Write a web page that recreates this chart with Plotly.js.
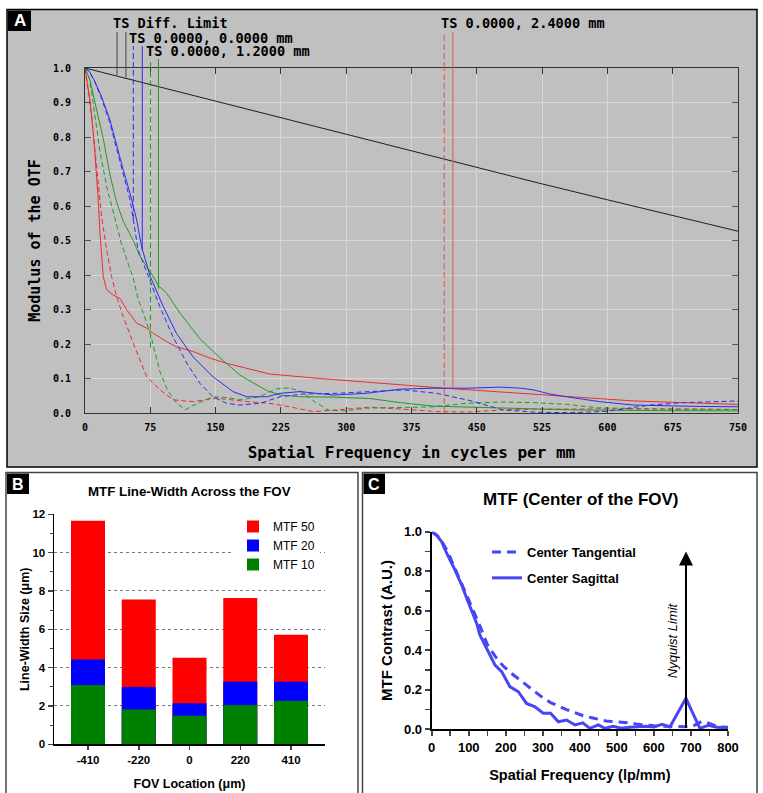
<!DOCTYPE html>
<html><head><meta charset="utf-8">
<script src="https://cdn.plot.ly/plotly-3.0.1.min.js"></script>
<style>html,body{margin:0;padding:0;background:#fff}</style>
</head><body><div id="chart" style="width:763px;height:793px"></div>
<script>
// ---------- Panel A data (Spatial frequency in cycles per mm vs modulus of the OTF) ----------
const diffFreq = [0, 75, 150, 225, 300, 375, 450, 525, 600, 675, 750];
const diffVal  = [1.0, 0.952, 0.903, 0.855, 0.807, 0.759, 0.712, 0.664, 0.618, 0.572, 0.527];

const blueSFreq = [0, 5, 11.5, 19, 28.7, 36.4, 44, 51.7, 59.4, 65, 75, 90, 105, 124, 147, 170, 186, 209, 224, 247, 285, 323, 362, 400, 442, 477, 500, 515, 534, 553, 591, 630, 668, 706, 750];
const blueSVal  = [1, 0.99, 0.96, 0.917, 0.849, 0.772, 0.704, 0.637, 0.559, 0.482, 0.395, 0.308, 0.231, 0.163, 0.105, 0.062, 0.047, 0.047, 0.057, 0.062, 0.052, 0.057, 0.069, 0.072, 0.072, 0.075, 0.072, 0.067, 0.055, 0.047, 0.033, 0.023, 0.02, 0.019, 0.018];

const blueTFreq = [0, 5, 11.5, 19, 28.7, 36.4, 44, 52, 55.5, 61, 73, 86, 101, 117, 132, 147, 163, 178, 201, 224, 250, 289, 327, 366, 404, 442, 480, 520, 560, 600, 649, 687, 750];
const blueTVal  = [1, 0.99, 0.958, 0.912, 0.84, 0.765, 0.69, 0.615, 0.56, 0.472, 0.395, 0.308, 0.221, 0.144, 0.086, 0.047, 0.028, 0.023, 0.028, 0.047, 0.055, 0.057, 0.062, 0.067, 0.057, 0.036, 0.009, 0.002, 0.001, 0.005, 0.023, 0.030, 0.035];

const greenSFreq = [0, 5.7, 13.4, 21, 28.7, 36.4, 44, 55.5, 63, 71, 78.5, 84, 93.8, 109, 124, 132, 155, 178, 201, 209, 224, 247, 285, 327, 362, 400, 442, 500, 560, 650, 750];
const greenSVal  = [1, 0.965, 0.878, 0.795, 0.69, 0.61, 0.555, 0.5, 0.455, 0.425, 0.395, 0.37, 0.347, 0.29, 0.24, 0.215, 0.16, 0.11, 0.076, 0.065, 0.052, 0.047, 0.046, 0.042, 0.03, 0.02, 0.017, 0.012, 0.009, 0.007, 0.006];

const greenTFreq = [0, 5, 9.6, 17, 25, 32.5, 42, 50, 55.5, 61, 67, 75, 86, 95, 105, 115, 124, 147, 163, 178, 201, 220, 235, 250, 265, 280, 300, 323, 362, 400, 438, 477, 515, 553, 590, 650, 750];
const greenTVal  = [1, 0.97, 0.895, 0.76, 0.655, 0.585, 0.49, 0.43, 0.39, 0.33, 0.29, 0.23, 0.12, 0.065, 0.03, 0.009, 0.022, 0.047, 0.045, 0.038, 0.048, 0.07, 0.073, 0.06, 0.03, 0.008, 0.006, 0.014, 0.015, 0.018, 0.028, 0.032, 0.03, 0.025, 0.015, 0.012, 0.01];

const redSFreq = [0, 5.7, 9.6, 12.6, 15.3, 17.2, 19.1, 21, 24.9, 32.5, 40.2, 47.9, 59.4, 70.9, 78.5, 93.8, 105, 124.4, 143.6, 162.7, 201, 212, 270, 327, 385, 412, 442, 500, 553, 591, 630, 687, 750];
const redSVal  = [1, 0.907, 0.81, 0.714, 0.617, 0.521, 0.453, 0.395, 0.357, 0.342, 0.332, 0.299, 0.26, 0.246, 0.231, 0.207, 0.192, 0.178, 0.159, 0.144, 0.12, 0.113, 0.10, 0.088, 0.077, 0.072, 0.067, 0.057, 0.047, 0.040, 0.035, 0.030, 0.025];

const redTFreq = [0, 7.7, 11.5, 15.3, 19.1, 24.9, 30.6, 36.4, 44, 55.5, 63.2, 70.9, 86, 101.4, 124.4, 151, 185.7, 212, 235, 262, 289, 327, 366, 404, 442, 480, 515, 600, 706, 750];
const redTVal  = [1, 0.859, 0.762, 0.666, 0.569, 0.472, 0.395, 0.337, 0.279, 0.202, 0.154, 0.105, 0.067, 0.038, 0.033, 0.043, 0.033, 0.028, 0.018, 0.004, 0.009, 0.017, 0.011, 0.004, 0.003, 0.009, 0.011, 0.012, 0.011, 0.01];

// vertical marker lines (frequency where they are drawn, value where they stop)
const markerLabels = ['TS Diff. Limit', 'TS 0.0000, 0.0000 mm', 'TS 0.0000, 1.2000 mm', 'TS 0.0000, 2.4000 mm'];
const markerFreq = [36.8, 47, 55.5, 65.8, 75.2, 84.4, 412.6, 422.5];
const markerEnd  = [0.978, 0.972, 0.56, 0.47, 0.19, 0.36, 0.0, 0.072];

const xTicksA = [0, 75, 150, 225, 300, 375, 450, 525, 600, 675, 750];

// ---------- Panel B data ----------
const fovLocations = ['-410', '-220', '0', '220', '410'];
const mtf50 = [11.66, 7.56, 4.52, 7.63, 5.72];
const mtf20 = [4.43, 2.99, 2.14, 3.27, 3.27];
const mtf10 = [3.09, 1.81, 1.49, 2.05, 2.27];

// ---------- Panel C data ----------
const sagFreq = [0, 13.5, 27, 40.5, 63, 81, 94.5, 108, 121.5, 130, 144, 157, 171, 189, 211, 234, 256, 279, 301, 321, 342, 364, 387, 408, 427, 450, 468, 490, 512, 534, 556, 578, 600, 622, 643, 686.5, 724, 747, 770, 800];
const sagVal  = [1, 0.983, 0.949, 0.891, 0.806, 0.73, 0.663, 0.595, 0.536, 0.477, 0.427, 0.376, 0.325, 0.292, 0.216, 0.19, 0.131, 0.114, 0.081, 0.081, 0.038, 0.047, 0.022, 0.033, 0.005, 0.022, 0.005, 0.015, 0.005, 0.01, 0.012, 0.015, 0.012, 0.025, 0.012, 0.157, 0.005, 0.02, 0.01, 0.008];
const tanFreq = [0, 21.4, 42.9, 64.3, 85.7, 107, 128.6, 150, 171, 193, 214, 236, 257, 279, 300, 321, 343, 364, 386, 407, 429, 450, 471, 493, 514, 536, 557, 579, 600, 621, 643, 664, 686, 707, 729, 750, 771, 800];
const tanVal  = [1, 0.97, 0.9, 0.81, 0.72, 0.625, 0.53, 0.43, 0.37, 0.32, 0.285, 0.255, 0.222, 0.19, 0.16, 0.135, 0.115, 0.1, 0.085, 0.07, 0.06, 0.05, 0.042, 0.038, 0.035, 0.032, 0.025, 0.02, 0.018, 0.016, 0.014, 0.013, 0.013, 0.018, 0.04, 0.03, 0.013, 0.01];
const nyquistFreq = 686.6;
const nyquistArrowTop = 0.9;

// ---------- layout helpers ----------
const W = 763, H = 793;
const PX = v => v / W;
const PY = v => 1 - v / H;
const MONO = 'DejaVu Sans Mono, monospace';
const SANS = 'Arial, Liberation Sans, Helvetica, sans-serif';
const RED = 'rgb(238,45,45)', BLUE = 'rgb(45,45,240)', GREEN = 'rgb(35,155,35)';
const CBLUE = 'rgb(70,70,245)';

function lineA(x, y, color, dash) {
  return {x: x, y: y, xaxis: 'x', yaxis: 'y', type: 'scatter', mode: 'lines',
    line: {color: color, width: 1, dash: dash || 'solid'}, showlegend: false, hoverinfo: 'skip'};
}

const traces = [
  lineA(diffFreq, diffVal, 'rgb(30,30,30)'),
  lineA(redTFreq, redTVal, RED, '5px,3px'),
  lineA(redSFreq, redSVal, RED),
  lineA(greenTFreq, greenTVal, GREEN, '5px,3px'),
  lineA(greenSFreq, greenSVal, GREEN),
  lineA(blueTFreq, blueTVal, BLUE, '5px,3px'),
  lineA(blueSFreq, blueSVal, BLUE),
  // Panel B
  {type: 'bar', name: 'MTF 50', x: fovLocations, y: mtf50, xaxis: 'x2', yaxis: 'y2', width: 0.67,
   marker: {color: 'rgb(255,0,0)', line: {width: 0}}, legend: 'legend', legendgroup: 'g50', hoverinfo: 'skip'},
  {type: 'bar', name: 'MTF 20', x: fovLocations, y: mtf20, xaxis: 'x2', yaxis: 'y2', width: 0.67,
   marker: {color: 'rgb(0,0,255)', line: {width: 0}}, legend: 'legend', legendgroup: 'g20', hoverinfo: 'skip'},
  {type: 'bar', name: 'MTF 10', x: fovLocations, y: mtf10, xaxis: 'x2', yaxis: 'y2', width: 0.67,
   marker: {color: 'rgb(0,128,0)', line: {width: 0}}, legend: 'legend', legendgroup: 'g10', hoverinfo: 'skip'},
  // Panel C
  {type: 'scatter', mode: 'lines', name: 'Center Tangential', x: tanFreq, y: tanVal, xaxis: 'x3', yaxis: 'y3',
   line: {color: CBLUE, width: 3, dash: '9px,6px'}, legend: 'legend2', legendgroup: 'ct', hoverinfo: 'skip'},
  {type: 'scatter', mode: 'lines', name: 'Center Sagittal', x: sagFreq, y: sagVal, xaxis: 'x3', yaxis: 'y3',
   line: {color: CBLUE, width: 3}, legend: 'legend2', legendgroup: 'cs', hoverinfo: 'skip'}
];

// ---------- shapes ----------
const shapes = [
  {type: 'rect', xref: 'paper', yref: 'paper', x0: PX(7), x1: PX(757), y0: PY(9.5), y1: PY(467),
   fillcolor: 'rgb(192,192,192)', line: {color: 'black', width: 1.5}, layer: 'below'},
  {type: 'rect', xref: 'paper', yref: 'paper', x0: PX(6), x1: PX(358), y0: PY(472.5), y1: PY(800),
   fillcolor: 'white', line: {color: '#444', width: 1.5}, layer: 'below'},
  {type: 'rect', xref: 'paper', yref: 'paper', x0: PX(362.5), x1: PX(757), y0: PY(472.5), y1: PY(800),
   fillcolor: 'white', line: {color: '#444', width: 1.5}, layer: 'below'},
  // letter boxes
  {type: 'rect', xref: 'paper', yref: 'paper', x0: PX(8), x1: PX(31), y0: PY(10.5), y1: PY(31), fillcolor: 'black', line: {width: 0}},
  {type: 'rect', xref: 'paper', yref: 'paper', x0: PX(7), x1: PX(29), y0: PY(473.5), y1: PY(494), fillcolor: 'black', line: {width: 0}},
  {type: 'rect', xref: 'paper', yref: 'paper', x0: PX(363.5), x1: PX(385), y0: PY(473.5), y1: PY(494), fillcolor: 'black', line: {width: 0}}
];

// vertical marker lines for panel A
const markerColors = ['rgb(70,70,70)', 'rgb(70,70,70)', BLUE, BLUE, GREEN, GREEN, 'rgb(235,80,80)', 'rgb(235,80,80)'];
const markerDash = ['solid', 'solid', '6px,3px', 'solid', '6px,3px', 'solid', '6px,3px', 'solid'];
const markerTopPx = [32, 32, 46, 46, 59, 59, 32, 32];
const yDomA = [PY(413), PY(68)];
markerFreq.forEach((f, i) => {
  shapes.push({type: 'line', xref: 'x', yref: 'paper', x0: f, x1: f, y0: yDomA[1], y1: PY(markerTopPx[i]),
    line: {color: markerColors[i], width: 1, dash: markerDash[i]}});
  shapes.push({type: 'line', xref: 'x', yref: 'y', x0: f, x1: f, y0: markerEnd[i], y1: 1,
    line: {color: markerColors[i], width: 1, dash: markerDash[i]}});
});

// ---------- annotations ----------
function paperText(text, xpx, ypx, font, xanchor) {
  return {text: text, xref: 'paper', yref: 'paper', x: PX(xpx), y: PY(ypx), xanchor: xanchor || 'center',
    yanchor: 'middle', showarrow: false, borderpad: 0, font: font};
}
const labFont = {family: MONO, size: 13.6, color: 'black', weight: 'bold'};
const annotations = [
  paperText('A', 19.5, 21, {family: SANS, size: 17, color: 'white', weight: 'bold'}),
  paperText('B', 18, 484, {family: SANS, size: 16, color: 'white', weight: 'bold'}),
  paperText('C', 374.3, 484, {family: SANS, size: 16, color: 'white', weight: 'bold'}),
  paperText(markerLabels[0], 112, 23, labFont, 'left'),
  paperText(markerLabels[1], 128, 37.5, labFont, 'left'),
  paperText(markerLabels[2], 145, 51.5, labFont, 'left'),
  paperText(markerLabels[3], 440, 23, labFont, 'left'),
  paperText('MTF Line-Width Across the FOV', 189, 491.5, {family: SANS, size: 13.3, color: 'black', weight: 'bold'}),
  paperText('MTF (Center of the FOV)', 580, 499, {family: SANS, size: 17, color: 'black', weight: 'bold'}),
  {text: '', xref: 'x3', yref: 'y3', x: nyquistFreq, y: nyquistArrowTop, axref: 'x3', ayref: 'y3', ax: nyquistFreq, ay: 0,
   showarrow: true, arrowhead: 2, arrowsize: 1.4, arrowwidth: 2, arrowcolor: 'black'},
  {text: 'Nyquist Limit', xref: 'x3', yref: 'y3', x: 651, y: 0.45, textangle: -90, showarrow: false,
   xanchor: 'center', yanchor: 'middle', font: {family: SANS, size: 13, color: 'black', style: 'italic'}}
];

const tickFontA = {family: MONO, size: 10, color: 'black', weight: 'bold'};

const layout = {
  width: W, height: H,
  margin: {l: 0, r: 0, t: 0, b: 0},
  paper_bgcolor: 'white',
  plot_bgcolor: 'rgba(0,0,0,0)',
  barmode: 'overlay',
  showlegend: true,
  font: {family: SANS, color: 'black'},
  xaxis: {domain: [PX(85), PX(738)], anchor: 'y', range: [0, 750], tickvals: xTicksA,
    ticks: 'inside', ticklen: 6, tickcolor: '#333', mirror: 'allticks', showline: true, linecolor: '#333', linewidth: 1,
    showgrid: true, gridcolor: 'rgb(214,214,214)', gridwidth: 1, zeroline: false, tickfont: tickFontA, ticklabelstandoff: 5,
    title: {text: 'Spatial Frequency in cycles per mm', font: {family: MONO, size: 16, color: 'black', weight: 'bold'}, standoff: 14}},
  yaxis: {domain: yDomA, anchor: 'x', range: [0, 1], dtick: 0.1, tickformat: '.1f',
    ticks: 'inside', ticklen: 6, tickcolor: '#555', mirror: 'allticks', showline: true, linecolor: '#333', linewidth: 1,
    showgrid: true, gridcolor: 'rgb(214,214,214)', gridwidth: 1, zeroline: false, tickfont: tickFontA, ticklabelstandoff: 11,
    title: {text: 'Modulus of the OTF', font: {family: MONO, size: 15, color: 'black', weight: 'bold'}, standoff: 8}},
  xaxis2: {domain: [PX(54), PX(325)], anchor: 'y2', type: 'category', categoryorder: 'array', categoryarray: fovLocations,
    range: [-0.67, 4.67], showline: true, linecolor: 'black', linewidth: 1.5, ticks: 'outside', ticklen: 4, tickwidth: 1.5,
    showgrid: false, zeroline: false, tickfont: {family: SANS, size: 11.5, color: 'black', weight: 'bold'},
    title: {text: 'FOV Location (μm)', font: {family: SANS, size: 12.5, color: 'black', weight: 'bold'}, standoff: 14}},
  yaxis2: {domain: [PY(744.3), PY(514.3)], anchor: 'x2', range: [0, 12], dtick: 2,
    showline: true, linecolor: 'black', linewidth: 1.5, ticks: 'outside', ticklen: 5, tickwidth: 1.5,
    minor: {dtick: 1, ticks: 'outside', ticklen: 3, tickwidth: 1, showgrid: false},
    showgrid: true, gridcolor: 'rgb(120,120,120)', griddash: 'dot', gridwidth: 1, zeroline: false,
    tickfont: {family: SANS, size: 11.5, color: 'black', weight: 'bold'},
    title: {text: 'Line-Width Size (μm)', font: {family: SANS, size: 12.5, color: 'black', weight: 'bold'}, standoff: 0}},
  xaxis3: {domain: [PX(431.7), PX(728)], anchor: 'y3', range: [0, 800], dtick: 100,
    showline: true, linecolor: 'black', linewidth: 2, ticks: 'outside', ticklen: 5, tickwidth: 2,
    minor: {dtick: 50, ticks: 'outside', ticklen: 5, tickwidth: 1.5, showgrid: false},
    showgrid: false, zeroline: false, tickfont: {family: SANS, size: 13, color: 'black', weight: 'bold'},
    title: {text: 'Spatial Frequency (lp/mm)', font: {family: SANS, size: 14.5, color: 'black', weight: 'bold'}, standoff: 16}},
  yaxis3: {domain: [PY(729.3), PY(531.7)], anchor: 'x3', range: [0, 1], dtick: 0.2, tickformat: '.1f',
    showline: true, linecolor: 'black', linewidth: 2, ticks: 'outside', ticklen: 5, tickwidth: 2,
    minor: {dtick: 0.1, ticks: 'outside', ticklen: 5, tickwidth: 1.5, showgrid: false},
    showgrid: false, zeroline: false, tickfont: {family: SANS, size: 13, color: 'black', weight: 'bold'},
    title: {text: 'MTF Contrast (A.U.)', font: {family: SANS, size: 15, color: 'black', weight: 'bold'}, standoff: 8}},
  legend: {x: PX(233), y: PY(512), xanchor: 'left', yanchor: 'top', bgcolor: 'white',
    traceorder: 'grouped', tracegroupgap: 0, font: {family: SANS, size: 12, color: 'black'}},
  legend2: {x: PX(487), y: PY(537), xanchor: 'left', yanchor: 'top', bgcolor: 'rgba(0,0,0,0)',
    traceorder: 'grouped', tracegroupgap: 6, font: {family: SANS, size: 13, color: 'black', weight: 'bold'}},
  shapes: shapes,
  annotations: annotations
};

Plotly.newPlot('chart', traces, layout, {displayModeBar: false, staticPlot: true});
</script></body></html>
